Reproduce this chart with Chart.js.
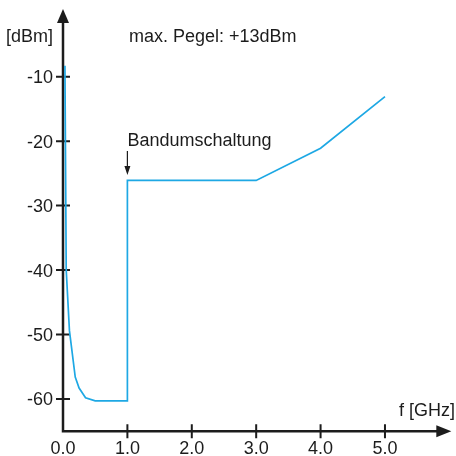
<!DOCTYPE html>
<html>
<head>
<meta charset="utf-8">
<script src="https://cdn.jsdelivr.net/npm/chart.js@4"></script>
<style>
  html, body { margin: 0; padding: 0; background: #fff; }
  canvas { display: block; }
</style>
</head>
<body>
<canvas id="chart" width="456" height="456"></canvas>
<script>
// values
const freqGHz = [0.03, 0.05, 0.1, 0.19, 0.25, 0.35, 0.5, 1.0, 1.0, 3.0, 4.0, 5.0];
const levelDbm = [-8.3, -40, -49.4, -56.6, -58.3, -59.8, -60.3, -60.3, -26.1, -26.1, -21.1, -13.1];
const xTicks = [0, 1, 2, 3, 4, 5];
const xTickLabels = ['0.0', '1.0', '2.0', '3.0', '4.0', '5.0'];
const yTicks = [-10, -20, -30, -40, -50, -60];
const yTickLabels = ['-10', '-20', '-30', '-40', '-50', '-60'];

const axisColor = '#1c1c1c';
const lineColor = '#1ea8e4';
const font = '"Liberation Sans", Arial, sans-serif';

const axesPlugin = {
    id: 'axes',
    beforeDatasetsDraw(chart) {
        const ctx = chart.ctx;
        const xs = chart.scales.x;
        const ys = chart.scales.y;
        const x0 = xs.getPixelForValue(0);
        const yBase = ys.getPixelForValue(ys.min);
        const xEnd = xs.getPixelForValue(xs.max);
        const yEnd = ys.getPixelForValue(ys.max);

        ctx.save();
        ctx.strokeStyle = axisColor;
        ctx.fillStyle = axisColor;
        ctx.lineWidth = 2.5;

        // axis lines
        ctx.beginPath();
        ctx.moveTo(x0, yBase);
        ctx.lineTo(x0, yEnd + 10);
        ctx.moveTo(x0 - 1.25, yBase);
        ctx.lineTo(xEnd - 9, yBase);
        ctx.stroke();

        // arrowheads
        ctx.beginPath();
        ctx.moveTo(x0, yEnd);
        ctx.lineTo(x0 - 6, yEnd + 14);
        ctx.lineTo(x0 + 6, yEnd + 14);
        ctx.closePath();
        ctx.fill();
        ctx.beginPath();
        ctx.moveTo(xEnd, yBase);
        ctx.lineTo(xEnd - 15, yBase - 6);
        ctx.lineTo(xEnd - 15, yBase + 6);
        ctx.closePath();
        ctx.fill();

        // ticks
        ctx.lineWidth = 2;
        ctx.beginPath();
        yTicks.forEach(v => {
            const y = ys.getPixelForValue(v);
            ctx.moveTo(x0 - 7, y);
            ctx.lineTo(x0 + 7, y);
        });
        xTicks.forEach(v => {
            if (v === 0) return;
            const x = xs.getPixelForValue(v);
            ctx.moveTo(x, yBase - 7);
            ctx.lineTo(x, yBase + 7);
        });
        ctx.stroke();

        // tick labels
        ctx.font = '18px ' + font;
        ctx.textAlign = 'right';
        ctx.textBaseline = 'middle';
        yTicks.forEach((v, i) => {
            ctx.fillText(yTickLabels[i], x0 - 10, ys.getPixelForValue(v) + 1.5);
        });
        ctx.textAlign = 'center';
        ctx.textBaseline = 'alphabetic';
        xTicks.forEach((v, i) => {
            ctx.fillText(xTickLabels[i], xs.getPixelForValue(v), 454);
        });

        // axis titles and notes
        ctx.font = '18px ' + font;
        ctx.textAlign = 'left';
        ctx.fillText('[dBm]', 6, 42);
        ctx.fillText('max. Pegel: +13dBm', 129, 42);
        ctx.textAlign = 'right';
        ctx.fillText('f [GHz]', 455, 416);
        ctx.textAlign = 'left';
        const bx = xs.getPixelForValue(1);
        ctx.fillText('Bandumschaltung', bx, 146);

        // marker arrow
        ctx.lineWidth = 1.2;
        ctx.beginPath();
        ctx.moveTo(bx, 151);
        ctx.lineTo(bx, 168);
        ctx.stroke();
        ctx.beginPath();
        ctx.moveTo(bx, 175);
        ctx.lineTo(bx - 3, 166);
        ctx.lineTo(bx + 3, 166);
        ctx.closePath();
        ctx.fill();
        ctx.restore();
    }
};

new Chart(document.getElementById('chart'), {
    type: 'scatter',
    data: {
        datasets: [{
            data: freqGHz.map((f, i) => ({ x: f, y: levelDbm[i] })),
            showLine: true,
            borderColor: lineColor,
            borderWidth: 1.7,
            pointRadius: 0,
            tension: 0
        }]
    },
    options: {
        responsive: false,
        animation: false,
        layout: { padding: { left: 63, right: 4.7, top: 9, bottom: 24.8 } },
        plugins: { legend: { display: false }, tooltip: { enabled: false } },
        scales: {
            x: { type: 'linear', min: 0, max: 6.03, display: false },
            y: { type: 'linear', min: -65, max: 0.5, display: false }
        }
    },
    plugins: [axesPlugin]
});
</script>
</body>
</html>
